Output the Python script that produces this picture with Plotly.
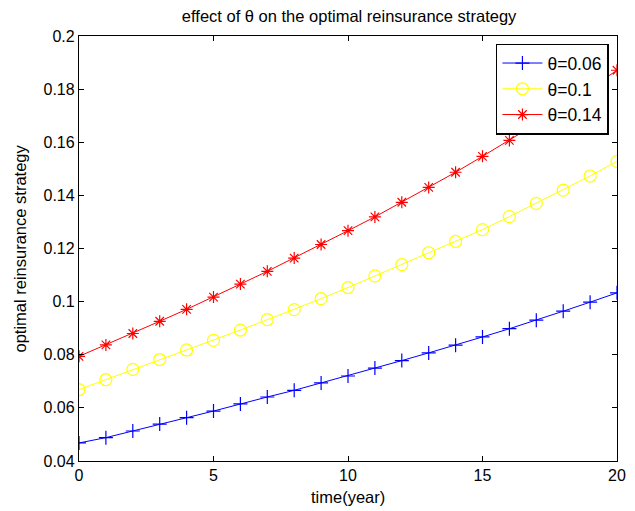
import plotly.graph_objects as go

years = list(range(0, 21))
theta_006 = [0.0468, 0.0488, 0.0513, 0.0539, 0.0563, 0.0588, 0.0615, 0.0641, 0.0666, 0.0694,
             0.0720, 0.0750, 0.0778, 0.0807, 0.0836, 0.0867, 0.0898, 0.0930, 0.0964, 0.0998, 0.1033]
theta_01 = [0.0669, 0.0706, 0.0745, 0.0782, 0.0818, 0.0854, 0.0893, 0.0932, 0.0970, 0.1011,
            0.1053, 0.1097, 0.1139, 0.1184, 0.1227, 0.1271, 0.1320, 0.1370, 0.1420, 0.1473, 0.1528]
theta_014 = [0.0794, 0.0837, 0.0880, 0.0926, 0.0971, 0.1017, 0.1066, 0.1114, 0.1164, 0.1215,
             0.1267, 0.1319, 0.1374, 0.1430, 0.1487, 0.1547, 0.1607, 0.1670, 0.1734, 0.1801, 0.1871]
series_names = ["θ=0.06", "θ=0.1", "θ=0.14"]
x_ticks = [0, 5, 10, 15, 20]
y_ticks = [0.04, 0.06, 0.08, 0.1, 0.12, 0.14, 0.16, 0.18, 0.2]
y_tick_text = ["0.04", "0.06", "0.08", "0.1", "0.12", "0.14", "0.16", "0.18", "0.2"]

FONT = "Liberation Sans, Arial, Helvetica, sans-serif"

fig = go.Figure()
styles = [
    (theta_006, "#0000ff", "cross-thin-open", 10),
    (theta_01, "#ffff00", "circle-open", 12),
    (theta_014, "#ff0000", "asterisk-open", 10),
]
for name, (vals, col, sym, sz) in zip(series_names, styles):
    fig.add_trace(go.Scatter(
        x=years, y=vals, name=name, mode="lines+markers",
        line=dict(color=col, width=1),
        marker=dict(symbol=sym, size=sz, color=col, line=dict(color=col, width=1.2)),
    ))

axis_common = dict(
    showgrid=False, zeroline=False, showline=True, linecolor="black", linewidth=1.3,
    mirror="ticks", ticks="inside", ticklen=5, tickcolor="black", tickwidth=1,
    tickfont=dict(family=FONT, size=16, color="black"), automargin=False,
)
fig.update_xaxes(range=[0, 20], tickvals=x_ticks, **axis_common)
fig.update_yaxes(range=[0.04, 0.2], tickvals=y_ticks, ticktext=y_tick_text, **axis_common)

fig.add_annotation(text="time(year)", xref="paper", yref="paper", x=0.5, y=0,
                   xanchor="center", yanchor="middle", yshift=-36, showarrow=False,
                   font=dict(family=FONT, size=16.5, color="black"))
fig.add_annotation(text="optimal reinsurance strategy", xref="paper", yref="paper",
                   x=-0.1115, y=0.5, xanchor="center", yanchor="middle", textangle=-90,
                   showarrow=False, font=dict(family=FONT, size=16.5, color="black"))

fig.update_layout(
    width=627, height=503,
    margin=dict(l=71, r=18, t=28, b=50),
    paper_bgcolor="white", plot_bgcolor="white",
    title=dict(text="effect of θ on the optimal reinsurance strategy",
               font=dict(family=FONT, size=16.5, color="black"),
               x=0.544, xanchor="center", y=0.984, yanchor="middle"),
    legend=dict(x=0.985, xanchor="right", y=0.982, yanchor="top",
                bordercolor="black", borderwidth=1.5, bgcolor="white",
                font=dict(family=FONT, size=17.5, color="black"),
                tracegroupgap=0, itemwidth=40),
    showlegend=True,
)

fig.write_html("out.html")
